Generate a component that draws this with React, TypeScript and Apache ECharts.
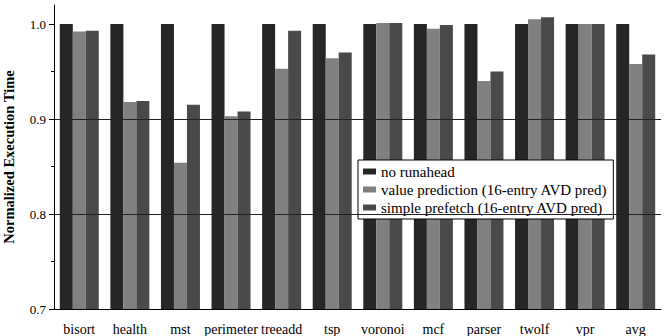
import React, { useEffect, useRef } from "react";
import * as echarts from "echarts";

const categories = ["bisort", "health", "mst", "perimeter", "treeadd", "tsp", "voronoi", "mcf", "parser", "twolf", "vpr", "avg"];
const noRunahead = [1.0, 1.0, 1.0, 1.0, 1.0, 1.0, 1.0, 1.0, 1.0, 1.0, 1.0, 1.0];
const valuePrediction = [0.992, 0.918, 0.854, 0.903, 0.953, 0.964, 1.001, 0.995, 0.940, 1.005, 1.0, 0.958];
const simplePrefetch = [0.993, 0.919, 0.915, 0.908, 0.993, 0.970, 1.001, 0.999, 0.950, 1.007, 1.0, 0.968];
const yLabels = [0.7, 0.8, 0.9, 1.0];
const yMinorTicks = [0.75, 0.85, 0.95];

const FONT = "'Liberation Serif', 'Times New Roman', serif";

export default function App() {
  const ref = useRef<HTMLDivElement>(null);
  useEffect(() => {
    if (!ref.current) return;
    const chart = echarts.init(ref.current, null, { renderer: "svg" });
    const barCommon = { type: "bar", barWidth: 13, barGap: "0%", yAxisIndex: 0, clip: true };
    chart.setOption({
      animation: false,
      textStyle: { fontFamily: FONT },
      grid: { left: 54, right: 3, top: 5, bottom: 27, containLabel: false, outerBoundsMode: "none" },
      legend: {
        orient: "vertical",
        left: 358,
        top: 160,
        backgroundColor: "#fff",
        borderColor: "#000",
        borderWidth: 1,
        padding: [4, 6, 4, 5],
        itemWidth: 13,
        itemHeight: 6,
        itemGap: 3,
        icon: "rect",
        textStyle: { fontFamily: FONT, fontSize: 15, color: "#000" },
        data: ["no runahead", "value prediction (16-entry AVD pred)", "simple prefetch (16-entry AVD pred)"],
      },
      xAxis: {
        type: "category",
        data: categories,
        z: 10,
        axisLine: { show: true, onZero: false, lineStyle: { color: "#000", width: 1 } },
        axisTick: { alignWithLabel: true, length: 5, lineStyle: { color: "#000" } },
        axisLabel: { fontFamily: FONT, fontSize: 14, color: "#000", margin: 13, interval: 0, hideOverlap: false },
      },
      yAxis: [
        {
          type: "value",
          min: 0.7,
          max: 1.02,
          interval: 0.1,
          z: 10,
          name: "Normalized Execution Time",
          nameLocation: "middle",
          nameGap: 38,
          nameTextStyle: { fontFamily: FONT, fontSize: 14.5, fontWeight: "bold", color: "#000" },
          axisLine: { show: true, onZero: false, lineStyle: { color: "#000", width: 1 } },
          axisTick: { show: true, length: 5, lineStyle: { color: "#000" }, customValues: yLabels },
          axisLabel: {
            fontFamily: FONT,
            fontSize: 13,
            color: "#000",
            margin: 8,
            customValues: yLabels,
            formatter: (v: number) => v.toFixed(1),
          },
          splitLine: { show: true, showMinLine: false, showMaxLine: false, lineStyle: { color: "#222", width: 1 } },
        },
        {
          type: "value",
          min: 0.7,
          max: 1.02,
          position: "left",
          axisLine: { show: false },
          axisTick: { show: true, length: 3, lineStyle: { color: "#000" }, customValues: yMinorTicks },
          axisLabel: { show: false },
          splitLine: { show: false },
        },
      ],
      series: [
        { ...barCommon, name: "no runahead", data: noRunahead, itemStyle: { color: "#262626" } },
        { ...barCommon, name: "value prediction (16-entry AVD pred)", data: valuePrediction, itemStyle: { color: "#808080" } },
        { ...barCommon, name: "simple prefetch (16-entry AVD pred)", data: simplePrefetch, itemStyle: { color: "#4a4a4a" } },
      ],
    });
    return () => chart.dispose();
  }, []);
  return <div ref={ref} style={{ width: 664, height: 336, position: "absolute", left: 0, top: 0 }} />;
}
